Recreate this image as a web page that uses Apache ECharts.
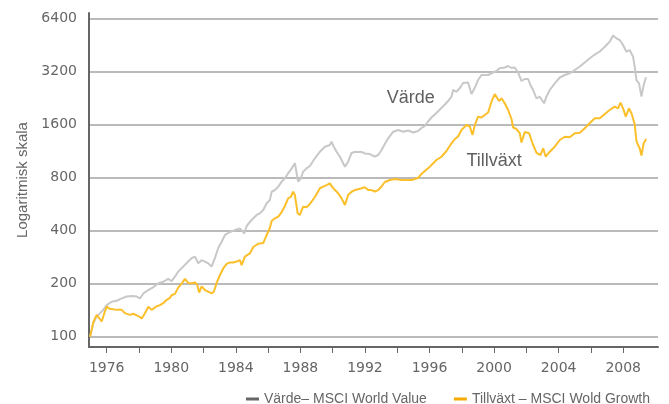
<!DOCTYPE html>
<html><head><meta charset="utf-8">
<script src="https://cdn.jsdelivr.net/npm/echarts@6/dist/echarts.min.js"></script>
<style>html,body{margin:0;padding:0;background:#fff}#c{width:669px;height:404px}</style>
</head><body><div id="c"></div>
<script>
const valueYears = [1974.97,1975.17,1975.38,1975.59,1975.79,1976.00,1976.31,1976.62,1976.93,1977.24,
1977.55,1977.86,1978.06,1978.27,1978.58,1978.89,1979.20,1979.50,1979.81,1980.02,
1980.23,1980.43,1980.74,1981.05,1981.26,1981.47,1981.67,1981.88,1982.09,1982.29,
1982.50,1982.71,1982.91,1983.12,1983.33,1983.64,1983.94,1984.25,1984.52,1984.67,
1984.98,1985.29,1985.49,1985.70,1985.91,1986.11,1986.22,1986.42,1986.63,1986.84,
1987.04,1987.24,1987.46,1987.66,1987.76,1987.86,1988.03,1988.17,1988.38,1988.59,
1988.90,1989.21,1989.52,1989.83,1989.93,1990.07,1990.24,1990.45,1990.65,1990.76,
1990.96,1991.17,1991.37,1991.58,1991.79,1991.99,1992.30,1992.61,1992.82,1993.03,
1993.23,1993.44,1993.54,1993.75,1994.06,1994.37,1994.68,1994.99,1995.29,1995.50,
1995.71,1995.91,1996.12,1996.43,1996.64,1996.95,1997.15,1997.36,1997.46,1997.67,
1997.88,1998.08,1998.39,1998.60,1998.70,1998.81,1999.01,1999.22,1999.42,1999.63,
1999.94,2000.15,2000.35,2000.66,2000.87,2001.08,2001.28,2001.49,2001.70,2001.90,
2002.11,2002.25,2002.42,2002.63,2002.83,2003.10,2003.24,2003.45,2003.76,2004.07,
2004.38,2004.69,2005.00,2005.31,2005.62,2005.93,2006.24,2006.55,2006.86,2007.16,
2007.37,2007.58,2007.78,2007.99,2008.20,2008.40,2008.61,2008.71,2008.82,2008.98,
2009.13,2009.27,2009.41];
const valueIndex = [100,119,130,136,142,151,158,160,165,169,
170,169,165,176,184,191,201,205,213,207,
219,234,250,267,279,285,261,272,267,261,
250,280,319,346,378,393,403,412,386,425,
460,491,502,524,572,597,665,680,711,759,
793,846,903,965,972,759,793,864,903,931,
1030,1122,1198,1225,1279,1198,1122,1051,965,923,
985,1104,1118,1118,1118,1097,1089,1051,1075,1148,
1241,1337,1360,1458,1491,1458,1481,1443,1471,1530,
1570,1666,1755,1861,1948,2079,2177,2304,2514,2459,
2581,2755,2773,2385,2355,2597,2865,3059,3059,3059,
3160,3223,3339,3374,3441,3352,3374,3160,2828,2904,
2904,2684,2514,2250,2304,2113,2304,2514,2744,2961,
3059,3127,3265,3418,3602,3805,3998,4158,4428,4727,
5126,4942,4833,4528,4147,4240,3885,3409,2865,2744,
2309,2684,2967];
const growthYears = [1974.97,1975.17,1975.38,1975.48,1975.69,1975.89,1976.00,1976.20,1976.62,1976.93,
1977.13,1977.44,1977.65,1977.96,1978.17,1978.37,1978.58,1978.79,1979.10,1979.30,
1979.50,1979.72,1979.92,1980.02,1980.23,1980.43,1980.64,1980.85,1981.05,1981.26,
1981.47,1981.61,1981.73,1981.88,1982.09,1982.29,1982.50,1982.64,1982.81,1983.02,
1983.22,1983.43,1983.64,1983.84,1984.05,1984.25,1984.36,1984.56,1984.87,1985.08,
1985.39,1985.70,1985.91,1986.11,1986.22,1986.42,1986.63,1986.84,1987.04,1987.24,
1987.41,1987.55,1987.66,1987.83,1987.97,1988.17,1988.38,1988.59,1988.90,1989.21,
1989.41,1989.62,1989.83,1989.93,1990.14,1990.34,1990.55,1990.76,1990.96,1991.17,
1991.37,1991.58,1991.79,1991.99,1992.20,1992.41,1992.61,1992.82,1993.03,1993.23,
1993.54,1993.85,1994.27,1994.89,1995.29,1995.50,1995.71,1996.02,1996.43,1996.74,
1997.05,1997.36,1997.57,1997.77,1997.98,1998.08,1998.29,1998.50,1998.66,1998.81,
1999.01,1999.22,1999.42,1999.63,1999.84,2000.04,2000.15,2000.31,2000.46,2000.66,
2000.87,2001.08,2001.18,2001.39,2001.59,2001.70,2001.80,2001.90,2002.17,2002.42,
2002.63,2002.87,2003.04,2003.20,2003.45,2003.76,2004.07,2004.38,2004.69,2005.00,
2005.31,2005.62,2005.93,2006.24,2006.55,2006.86,2007.16,2007.47,2007.68,2007.83,
2007.99,2008.16,2008.36,2008.51,2008.71,2008.82,2008.92,2009.02,2009.13,2009.27,
2009.42];
const growthIndex = [100,121,133,136,122,139,148,144,142,142,
136,133,135,131,127,136,148,142,149,151,
155,162,166,172,175,190,200,213,202,201,
203,197,178,193,184,180,176,180,202,224,
244,259,264,264,267,272,255,285,297,323,
337,340,378,414,454,470,480,510,552,610,
623,665,637,502,491,547,543,567,621,696,
711,726,743,717,680,652,610,559,637,665,
680,687,696,705,680,680,667,680,712,755,
775,786,775,775,796,839,872,923,1007,1051,
1133,1253,1325,1369,1491,1520,1591,1560,1396,1591,
1774,1755,1813,1874,2158,2385,2325,2177,2256,2113,
1936,1721,1540,1510,1433,1266,1279,1452,1428,1225,
1104,1075,1174,1051,1122,1198,1308,1365,1355,1428,
1439,1524,1634,1736,1736,1838,1936,2021,1979,2130,
1979,1774,1979,1854,1612,1291,1225,1174,1068,1253,
1325];
const yTicks = [100,200,400,800,1600,3200,6400];
const xTickYears = [1976,1978,1980,1982,1984,1986,1988,1990,1992,1994,1996,1998,2000,2002,2004,2006,2008];
const xLabelYears = [1976,1980,1984,1988,1992,1996,2000,2004,2008];
const seriesNames = ['Värde– MSCI World Value', 'Tillväxt – MSCI Wold Growth'];
const annotations = [
  {text: 'Värde', year: 1994.84, value: 2274},
  {text: 'Tillväxt', year: 2000.0, value: 994}
];

function pairs(xs, ys) {
  const n = Math.min(xs.length, ys.length), out = [];
  for (let i = 0; i < n; i++) out.push([xs[i], ys[i]]);
  return out;
}
const labelFont = 'DejaVu Sans';
const textFont = '"Liberation Sans", Arial, sans-serif';
const chart = echarts.init(document.getElementById('c'), null, {renderer: 'canvas'});
chart.setOption({
  animation: false,
  backgroundColor: '#ffffff',
  grid: {left: 89, right: 11, top: 13, bottom: 57, containLabel: false},
  legend: {
    left: 241, top: 387, itemWidth: 13, itemHeight: 3, itemGap: 27,
    textStyle: {color: '#666666', fontSize: 14, fontFamily: textFont},
    data: [
      {name: seriesNames[0], icon: 'rect', itemStyle: {color: '#666666'}},
      {name: seriesNames[1], icon: 'rect', itemStyle: {color: '#f5ab00'}}
    ]
  },
  xAxis: {
    type: 'value', min: 1974.904, max: 2010.155,
    splitLine: {show: false},
    axisLine: {show: true, lineStyle: {color: '#666666', width: 2}},
    axisTick: {show: true, length: 6, customValues: xTickYears, lineStyle: {color: '#666666', width: 1}},
    axisLabel: {customValues: xLabelYears, margin: 14, color: '#666666', fontSize: 14, fontFamily: labelFont,
      formatter: v => String(Math.round(v))}
  },
  yAxis: {
    type: 'log', logBase: 2, min: 87.4, max: 6879,
    name: 'Logaritmisk skala', nameLocation: 'middle', nameRotate: 90, nameGap: 48,
    nameTextStyle: {color: '#666666', fontSize: 15, fontFamily: textFont},
    axisLine: {show: true, lineStyle: {color: '#666666', width: 2}},
    axisTick: {show: false, customValues: yTicks},
    axisLabel: {customValues: yTicks, margin: 12, color: '#666666', fontSize: 14, fontFamily: labelFont,
      formatter: v => String(Math.round(v))},
    splitLine: {show: true, lineStyle: {color: '#a3a3a3', width: 1.5}}
  },
  series: [
    {
      name: seriesNames[0], type: 'line', showSymbol: false, symbol: 'none',
      data: pairs(valueYears, valueIndex),
      lineStyle: {color: '#c8c8c8', width: 2}, itemStyle: {color: '#c8c8c8'},
      markPoint: {
        symbol: 'circle', symbolSize: 0,
        label: {show: true, position: 'inside', formatter: p => p.name, color: '#5f5f5f', fontSize: 18, fontFamily: textFont},
        data: [{name: annotations[0].text, coord: [annotations[0].year, annotations[0].value]}]
      }
    },
    {
      name: seriesNames[1], type: 'line', showSymbol: false, symbol: 'none',
      data: pairs(growthYears, growthIndex),
      lineStyle: {color: '#fbbf2a', width: 2}, itemStyle: {color: '#fbbf2a'},
      markPoint: {
        symbol: 'circle', symbolSize: 0,
        label: {show: true, position: 'inside', formatter: p => p.name, color: '#5f5f5f', fontSize: 18, fontFamily: textFont},
        data: [{name: annotations[1].text, coord: [annotations[1].year, annotations[1].value]}]
      }
    }
  ]
});
</script>
</body></html>
